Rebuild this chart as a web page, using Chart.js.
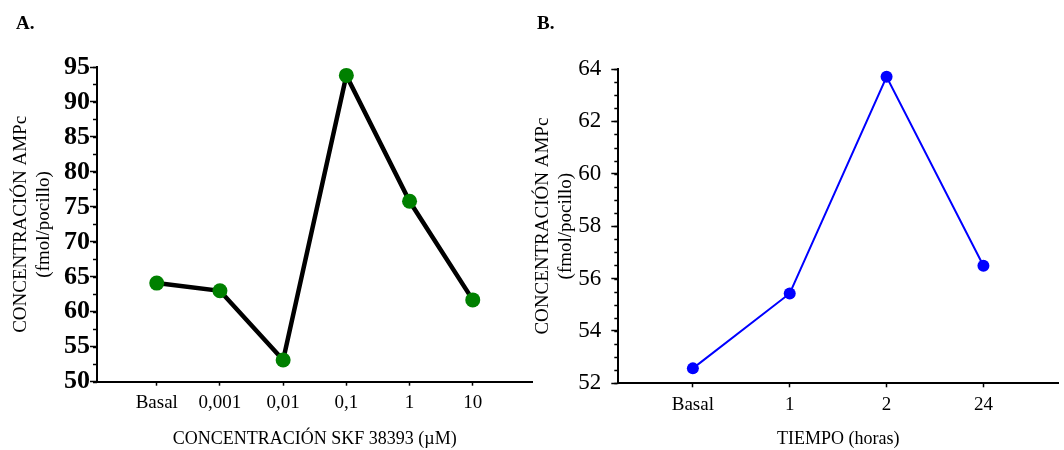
<!DOCTYPE html>
<html lang="es">
<head>
<meta charset="utf-8">
<title>Concentración AMPc</title>
<script src="https://cdn.jsdelivr.net/npm/chart.js@4/dist/chart.umd.min.js"></script>
<style>
  html, body { margin: 0; padding: 0; background: #fff; }
  body { position: relative; width: 1064px; height: 450px; overflow: hidden; }
  canvas { position: absolute; top: 0; }
  .js-chart-a { left: 0; }
  .js-chart-b { left: 530px; }
  .c-panel-label {
    position: absolute; top: 12px;
    font: bold 19px "Liberation Serif", serif; color: #000;
  }
</style>
</head>
<body>
<canvas class="js-chart-a" width="540" height="450"></canvas>
<canvas class="js-chart-b" width="534" height="450"></canvas>
<div class="c-panel-label" style="left:16px">A.</div>
<div class="c-panel-label" style="left:537px">B.</div>
<script>
//#region ***  Data                                     ***********
const categoriesA = ["Basal", "0,001", "0,01", "0,1", "1", "10"];
const valuesA = [64.1, 63.0, 53.1, 93.8, 75.8, 61.7];
const yTicksA = [50, 55, 60, 65, 70, 75, 80, 85, 90, 95];

const categoriesB = ["Basal", "1", "2", "24"];
const valuesB = [52.57, 55.43, 63.7, 56.49];
const yTicksB = [52, 54, 56, 58, 60, 62, 64];

const yTitle = ["CONCENTRACIÓN AMPc", "(fmol/pocillo)"];
//#endregion

//#region ***  Plugins                                  ***********
// small ticks between the labelled ones on the y axis
const minorTicks = {
  id: "minorTicks",
  afterDraw: function (chart, args, opts) {
    const scale = chart.scales.y;
    const ctx = chart.ctx;
    ctx.save();
    ctx.strokeStyle = "#000";
    ctx.lineWidth = opts.width;
    const count = Math.round((scale.max - scale.min) / opts.step);
    for (let i = 0; i <= count; i++) {
      const y = Math.round(scale.getPixelForValue(scale.min + i * opts.step)) + 0.5;
      ctx.beginPath();
      ctx.moveTo(scale.right - opts.length, y);
      ctx.lineTo(scale.right, y);
      ctx.stroke();
    }
    ctx.restore();
  },
};
//#endregion

//#region ***  Chart config - make___                   ***********
const serif = "'Liberation Serif', 'Times New Roman', serif";

const makeConfig = function (settings) {
  const points = settings.values.map((v, i) => ({ x: i, y: v }));
  return {
    type: "line",
    data: {
      datasets: [
        {
          data: points,
          borderColor: settings.lineColor,
          borderWidth: settings.lineWidth,
          pointRadius: settings.pointRadius,
          pointBackgroundColor: settings.pointColor,
          pointBorderWidth: 0,
          pointHoverRadius: settings.pointRadius,
          tension: 0,
        },
      ],
    },
    options: {
      responsive: false,
      animation: false,
      devicePixelRatio: 1,
      layout: { padding: settings.padding },
      plugins: {
        legend: { display: false },
        tooltip: { enabled: false },
        minorTicks: { step: settings.minorStep, length: 4, width: 1.5 },
      },
      scales: {
        x: {
          type: "linear",
          min: -settings.xGap,
          max: settings.categories.length - 1 + settings.xGap,
          afterBuildTicks: function (scale) {
            scale.ticks = settings.categories.map((c, i) => ({ value: i }));
          },
          afterFit: function (scale) {
            scale.height = settings.xHeight;
          },
          ticks: {
            color: "#000",
            padding: 6,
            maxRotation: 0,
            autoSkip: false,
            font: { family: serif, size: 19 },
            callback: (value) => settings.categories[value],
          },
          grid: {
            drawOnChartArea: false,
            tickLength: 4,
            tickWidth: 1.5,
            color: "#000",
          },
          border: { color: "#000", width: 2 },
          title: {
            display: true,
            text: settings.xTitle,
            color: "#000",
            font: { family: serif, size: 18 },
            padding: { top: 0, bottom: 0 },
          },
        },
        y: {
          min: settings.yTicks[0],
          max: settings.yTicks[settings.yTicks.length - 1],
          afterBuildTicks: function (scale) {
            scale.ticks = settings.yTicks.map((v) => ({ value: v }));
          },
          afterFit: function (scale) {
            scale.width = settings.yWidth;
          },
          ticks: {
            color: "#000",
            padding: settings.yPadding,
            font: settings.yFont,
          },
          grid: {
            drawOnChartArea: false,
            tickLength: 7,
            tickWidth: 1.5,
            color: "#000",
          },
          border: { color: "#000", width: 2 },
          title: {
            display: true,
            text: yTitle,
            color: "#000",
            font: { family: serif, size: 19, lineHeight: 1.2 },
            padding: { top: settings.yTitleTop, bottom: 0 },
          },
        },
      },
    },
    plugins: [minorTicks],
  };
};
//#endregion

//#region ***  Init / DOMContentLoaded                  ***********
const init = function () {
  const htmlChartA = document.querySelector(".js-chart-a");
  const htmlChartB = document.querySelector(".js-chart-b");

  new Chart(
    htmlChartA,
    makeConfig({
      categories: categoriesA,
      values: valuesA,
      yTicks: yTicksA,
      xTitle: "CONCENTRACIÓN SKF 38393 (µM)",
      lineColor: "#000",
      lineWidth: 4.5,
      pointColor: "#008000",
      pointRadius: 7.5,
      minorStep: 2.5,
      xGap: 0.945,
      xHeight: 68.3,
      yWidth: 97,
      yPadding: 0,
      yFont: { family: serif, size: 26, weight: "bold" },
      yTitleTop: 9.5,
      padding: { top: 67, right: 7, bottom: 0, left: 0 },
    })
  );

  new Chart(
    htmlChartB,
    makeConfig({
      categories: categoriesB,
      values: valuesB,
      yTicks: yTicksB,
      xTitle: "TIEMPO (horas)",
      lineColor: "#0000ff",
      lineWidth: 2,
      pointColor: "#0000ff",
      pointRadius: 6,
      minorStep: 0.5,
      xGap: 0.77,
      xHeight: 66.7,
      yWidth: 88.3,
      yPadding: 10,
      yFont: { family: serif, size: 23 },
      yTitleTop: 1.6,
      padding: { top: 69, right: 2, bottom: 0, left: 0 },
    })
  );
};

document.addEventListener("DOMContentLoaded", init);
//#endregion
</script>
</body>
</html>
